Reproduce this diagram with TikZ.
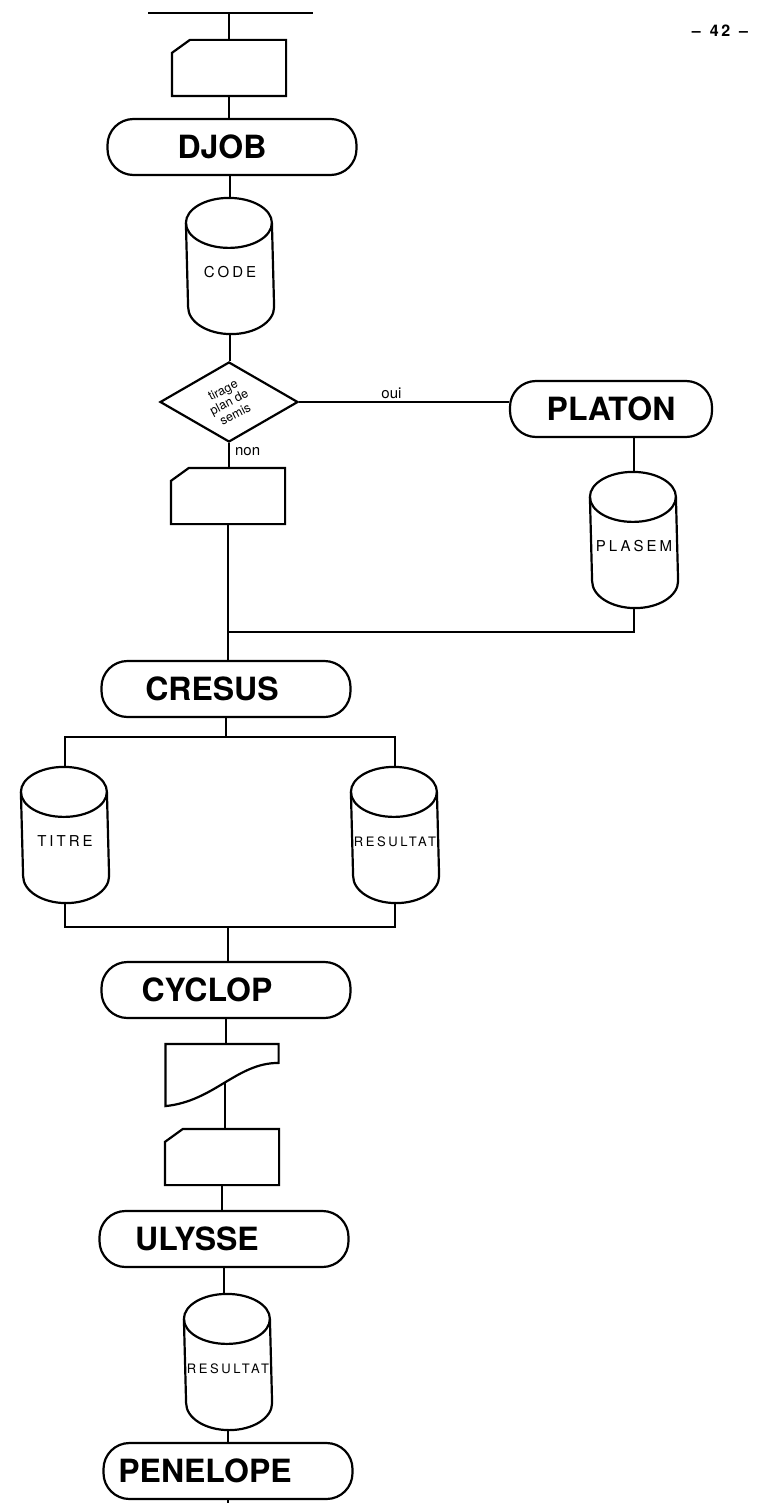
\documentclass[tikz,border=0pt]{standalone}
\usepackage{fontspec}
\setmainfont{TeX Gyre Heros}
\newfontfamily\etiq[LetterSpace=20]{TeX Gyre Heros}
\usetikzlibrary{shapes.geometric}

\begin{document}
\begin{tikzpicture}[
  x=1pt, y=1pt,
  line width=2.2pt,
  every node/.style={inner sep=0pt},
  term/.style={draw, rectangle, rounded corners=26pt, minimum width=249pt,
    minimum height=56pt, font=\fontsize{32}{36}\selectfont\bfseries,
    execute at end node={\hspace*{#1}}},
  term/.default=28pt,
  carte/.style={minimum width=112pt, minimum height=54pt},
  disque/.style={minimum width=86pt, minimum height=134pt,
    text height=25pt, text depth=2pt,
    font=\etiq\fontsize{15}{18}\selectfont},
  test/.style={draw, diamond, minimum width=138pt, minimum height=80pt},
  petit/.style={font=\fontsize{15}{15}\selectfont}
]
  \useasboundingbox (0,0) rectangle (765,-1503);

  % entree
  \coordinate (bordg) at (148,-13);
  \coordinate (bordd) at (313,-13);
  \coordinate (haut) at (229,-13);
  \node[carte] (carte1) at (229,-68) {};
  \node[term=20pt] (djob) at (232,-147) {DJOB};
  \node[disque] (code) at (230,-266) {CODE};
  \node[test, label={[rotate=27, font=\fontsize{12.5}{13.5}\selectfont, align=center]center:tirage\\plan de\\semis}]
    (tirage) at (229,-402) {};

  % branche oui
  \node[term=0pt, minimum width=202pt] (platon) at (611,-409) {PLATON};
  \node[disque] (plasem) at (634,-540) {PLASEM};

  % branche non
  \node[carte] (carte2) at (228,-496) {};
  \coordinate (retour) at (228,-632);
  \node[term=28pt] (cresus) at (226,-689) {CRESUS};
  \coordinate (eclat) at (228,-737);
  \node[disque] (titre) at (65,-835) {TITRE};
  \node[disque, font=\etiq\fontsize{13}{15}\selectfont] (resultat) at (395,-835) {RESULTAT};
  \coordinate (reunion) at (228,-927);
  \node[term=38pt] (cyclop) at (226,-990) {CYCLOP};
  \node[minimum width=111pt, minimum height=60pt] (bande) at (222,-1075) {};
  \node[carte] (carte3) at (222,-1157) {};
  \node[term=54pt] (ulysse) at (224,-1239) {ULYSSE};
  \node[disque, font=\etiq\fontsize{13}{15}\selectfont] (resultat2) at (228,-1362) {RESULTAT};
  \node[term=46pt] (penelope) at (228,-1471) {PENELOPE};
  \coordinate (bas) at (228,-1503);

  % page
  \node[font=\bfseries\fontsize{16}{18}\selectfont] (page) at (720,-31)
    {\textendash\hspace{9pt}4\,2\hspace{9pt}\textendash};

  % cartes et disques
  \foreach \c in {carte1,carte2,carte3}
    \draw ([yshift=-13pt]\c.north west) -- ([xshift=18pt]\c.north west)
      -- (\c.north east) -- (\c.south east) -- (\c.south west) -- cycle;
  \foreach \d in {code,plasem,titre,resultat,resultat2} {
    \draw ([yshift=-25pt]\d.north west)
      arc[start angle=180, end angle=0, x radius=43pt, y radius=25pt]
      -- ([yshift=27pt]\d.south east)
      arc[start angle=0, end angle=-180, x radius=43pt, y radius=27pt] -- cycle;
    \draw ([yshift=-25pt]\d.north west)
      arc[start angle=180, end angle=360, x radius=43pt, y radius=25pt];
  }

  % bande
  \draw (bande.north west) -- (bande.north east) -- ++(0,-19)
    .. controls +(-42,0) and +(49,5) .. (bande.south west)
    coordinate[pos=.5] (bande-bas) -- cycle;

  % liaisons
  \draw (bordg) -- (bordd);
  \draw (haut) -- (haut |- carte1.north);
  \draw (carte1.south) -- (carte1.south |- djob.north);
  \draw (djob.south -| code.north) -- (code.north);
  \draw (code.south) -- (code.south |- tirage.north);
  \draw (tirage.east) -- node[pos=.44, above=2pt, petit] {oui} (tirage.east -| platon.west);
  \draw (tirage.south) -- node[pos=.35, right=5pt, petit] {non} (tirage.south |- carte2.north);
  \draw (platon.south -| plasem.north) -- (plasem.north);
  \draw (plasem.south) |- (retour);
  \draw (carte2.south) -- (carte2.south |- cresus.north);
  \draw (cresus.south) -- (cresus.south |- eclat);
  \draw (titre.north) |- (eclat) -| (resultat.north);
  \draw (titre.south) |- (reunion) -| (resultat.south);
  \draw (reunion) -- (reunion |- cyclop.north);
  \draw (cyclop.south) -- (cyclop.south |- bande.north);
  \draw (bande-bas) -- (bande-bas |- carte3.north);
  \draw (carte3.south) -- (carte3.south |- ulysse.north);
  \draw (ulysse.south) -- (ulysse.south |- resultat2.north);
  \draw (resultat2.south) -- (resultat2.south |- penelope.north);
  \draw (penelope.south) -- (bas);
\end{tikzpicture}
\end{document}
